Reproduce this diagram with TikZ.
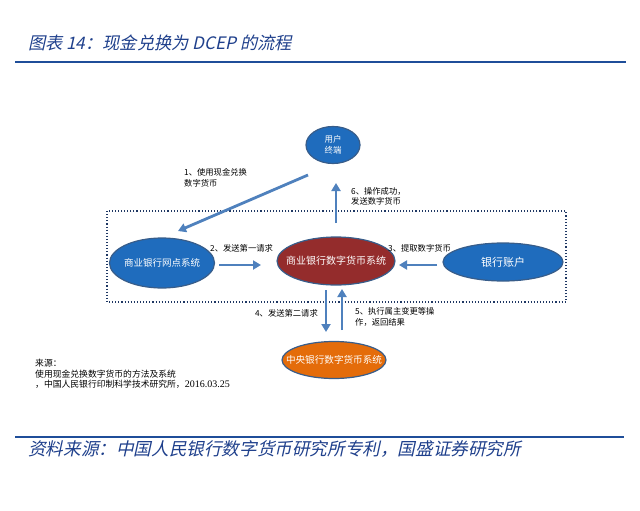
\documentclass[tikz,border=0pt]{standalone}
\usepackage{fontspec}
\usetikzlibrary{arrows.meta,shapes.geometric}
\newfontfamily\cjk{Noto Sans CJK SC}
\newfontfamily\cjksl[FakeSlant=0.22]{Noto Sans CJK SC}
\newfontfamily\numserif{Liberation Serif}
\definecolor{titleblue}{RGB}{31,64,140}
\definecolor{rulerblue}{RGB}{31,78,153}
\definecolor{arrowblue}{RGB}{79,129,189}
\definecolor{ellblue}{RGB}{31,108,189}
\definecolor{ellline}{RGB}{56,93,138}
\definecolor{darkred}{RGB}{148,44,44}
\definecolor{orangefill}{RGB}{228,108,10}
\definecolor{boxnavy}{RGB}{31,56,100}
\tikzset{
  ellnode/.style={ellipse, draw=ellline, line width=1.2pt, inner sep=0pt},
  elltext/.style={text=white, align=center, inner sep=0pt},
  flowarrow/.style={draw=arrowblue, line width=2.8pt, -{Triangle[length=8pt,width=9pt]}},
  lbl/.style={font=\cjk\fontsize{8.3}{10.8}\selectfont, align=left, inner sep=0pt},
}
\begin{document}
\begin{tikzpicture}[x=1pt,y=-1pt]
\useasboundingbox[fill=white] (0,0) rectangle (640,511);
% title and rules
\node[anchor=west, inner sep=0pt, text=titleblue, font=\cjksl\fontsize{17.2}{19}\selectfont] (title) at (28,43) {图表 14：现金兑换为 DCEP 的流程};
\coordinate (r1a) at (15,62); \coordinate (r1b) at (626,62);
\draw[rulerblue, line width=2pt] (r1a) -- (r1b);
\coordinate (r2a) at (15,437); \coordinate (r2b) at (624,437);
\draw[rulerblue, line width=2pt] (r2a) -- (r2b);
\node[anchor=west, inner sep=0pt, text=titleblue, font=\cjksl\fontsize{17.6}{20}\selectfont] (foot) at (28,449) {资料来源：中国人民银行数字货币研究所专利，国盛证券研究所};
% dotted box
\coordinate (boxa) at (107,211); \coordinate (boxb) at (566,302);
\draw[boxnavy, line width=1.1pt, dotted] (boxa) rectangle (boxb);
% ellipses
\node[ellnode, fill=ellblue, minimum width=54pt, minimum height=37pt,
  label={[elltext, font=\cjk\fontsize{8.5}{11}\selectfont]center:用户\\终端}] (term) at (333,145) {};
\node[ellnode, fill=ellblue, minimum width=105pt, minimum height=50pt,
  label={[elltext, font=\cjk\fontsize{9.5}{11}\selectfont]center:商业银行网点系统}] (net) at (162,263) {};
\node[ellnode, fill=darkred, minimum width=118pt, minimum height=48pt,
  label={[elltext, font=\cjk\fontsize{10}{12}\selectfont]center:商业银行数字货币系统}] (cbs) at (336,261) {};
\node[ellnode, fill=ellblue, minimum width=120pt, minimum height=38pt,
  label={[elltext, font=\cjk\fontsize{11}{13}\selectfont]center:银行账户}] (acct) at (503,262) {};
\node[ellnode, fill=orangefill, minimum width=104pt, minimum height=37pt,
  label={[elltext, font=\cjk\fontsize{9.6}{11}\selectfont]center:中央银行数字货币系统}] (pbc) at (334,360) {};
% arrow endpoints
\coordinate (a1s) at (308,175); \coordinate (a1e) at (178,231);
\coordinate (a6s) at (336,223); \coordinate (a6e) at (336,183);
\coordinate (a2s) at (219,265); \coordinate (a2e) at (261,265);
\coordinate (a3s) at (437,265); \coordinate (a3e) at (399,265);
\coordinate (a4s) at (326,290); \coordinate (a4e) at (326,332);
\coordinate (a5s) at (342,330); \coordinate (a5e) at (342,289);
\draw[flowarrow] (a1s) -- (a1e);
\draw[flowarrow] (a6s) -- (a6e);
\draw[flowarrow] (a2s) -- (a2e);
\draw[flowarrow] (a3s) -- (a3e);
\draw[flowarrow] (a4s) -- (a4e);
\draw[flowarrow] (a5s) -- (a5e);
% labels
\node[lbl, anchor=north west] (l1) at (184,168) {1、使用现金兑换\\数字货币};
\node[lbl, anchor=north west] (l6) at (351,187) {6、操作成功，\\发送数字货币};
\node[lbl, anchor=west] (l2) at (210,248) {2、发送第一请求};
\node[lbl, anchor=west] (l3) at (388,248) {3、提取数字货币};
\node[lbl, anchor=east] (l4) at (318,313) {4、发送第二请求};
\node[lbl, anchor=north west] (l5) at (355,307) {5、执行属主变更等操\\作，返回结果};
% source
\node[anchor=north west, inner sep=0pt, align=left, font=\cjk\fontsize{8.8}{10.6}\selectfont] (src) at (35,359) {来源：\\使用现金兑换数字货币的方法及系统\\，中国人民银行印制科学技术研究所，{\numserif\fontsize{10}{10.6}\selectfont 2016.03.25}};
\end{tikzpicture}
\end{document}
